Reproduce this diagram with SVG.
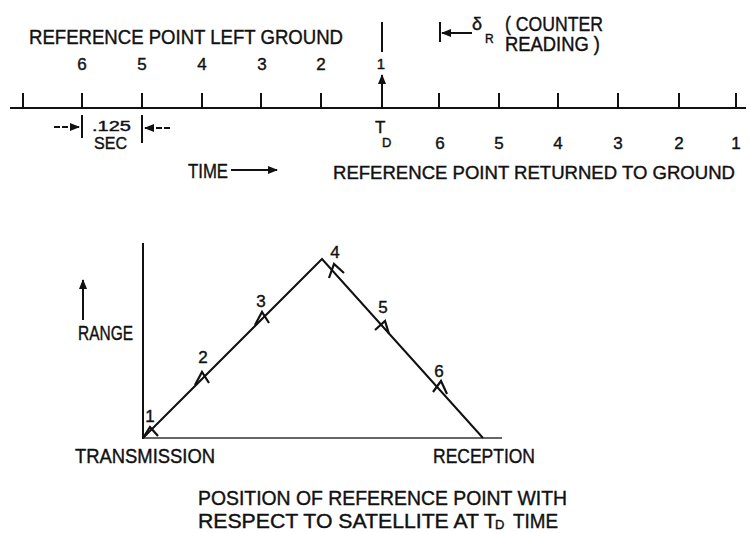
<svg xmlns="http://www.w3.org/2000/svg" width="751" height="533" viewBox="0 0 751 533">
<style>
text{font-family:"Liberation Sans","DejaVu Sans",sans-serif;fill:#111;stroke:#111;stroke-width:0.4}
.l{stroke:#111;stroke-width:2;fill:none}
.t{stroke:#111;stroke-width:2;fill:none}
.big{font-size:20px}
.num{font-size:17px}
.sub{font-size:12px}
.mk{stroke:#111;stroke-width:2.2;fill:none;stroke-linejoin:miter}
</style>
<defs>
<marker id="ah" viewBox="0 0 10 10" refX="9" refY="5" markerWidth="5" markerHeight="5" orient="auto" markerUnits="strokeWidth">
<path d="M0,1 L10,5 L0,9 Z" fill="#111"/>
</marker>
</defs>
<rect width="751" height="533" fill="#fff"/>
<g id="timeline">
<line class="l" x1="10" y1="108" x2="746" y2="108"/>
<g class="t">
<line x1="23" y1="108" x2="23" y2="93"/>
<line x1="82" y1="108" x2="82" y2="93"/>
<line x1="142" y1="108" x2="142" y2="93"/>
<line x1="202" y1="108" x2="202" y2="93"/>
<line x1="261" y1="108" x2="261" y2="93"/>
<line x1="321" y1="108" x2="321" y2="93"/>
<line x1="439" y1="108" x2="439" y2="93"/>
<line x1="499" y1="108" x2="499" y2="93"/>
<line x1="558" y1="108" x2="558" y2="93"/>
<line x1="618" y1="108" x2="618" y2="93"/>
<line x1="679" y1="108" x2="679" y2="93"/>
<line x1="736" y1="108" x2="736" y2="93"/>
</g>
<line class="l" x1="382" y1="108" x2="382" y2="75" marker-end="url(#ah)"/>
<line class="l" x1="382" y1="22" x2="382" y2="52"/>
</g>
<g id="labels-top">
<text class="big" x="29" y="44" textLength="314" lengthAdjust="spacingAndGlyphs">REFERENCE POINT LEFT GROUND</text>
<text class="num" x="82" y="70" text-anchor="middle">6</text>
<text class="num" x="142" y="70" text-anchor="middle">5</text>
<text class="num" x="202" y="70" text-anchor="middle">4</text>
<text class="num" x="262" y="70" text-anchor="middle">3</text>
<text class="num" x="321" y="70" text-anchor="middle">2</text>
<text class="num" x="381" y="69" text-anchor="middle" style="font-size:15px">1</text>
</g>
<g id="counter">
<line class="l" x1="440" y1="22" x2="440" y2="42"/>
<line class="l" x1="472" y1="33" x2="442" y2="33" stroke-width="1.5" marker-end="url(#ah)"/>
<text x="472" y="30" style="font-size:18px">δ</text>
<text class="sub" x="485" y="43">R</text>
<text class="big" x="505" y="31" textLength="98" lengthAdjust="spacingAndGlyphs">( COUNTER</text>
<text class="big" x="505" y="51" textLength="95" lengthAdjust="spacingAndGlyphs">READING )</text>
</g>
<g id="interval">
<line class="l" x1="82" y1="115" x2="82" y2="138" stroke-width="1.5"/>
<line class="l" x1="142" y1="115" x2="142" y2="143" stroke-width="1.5"/>
<line class="l" x1="54" y1="127" x2="79" y2="127" stroke-width="1.5" stroke-dasharray="6,2" marker-end="url(#ah)"/>
<line class="l" x1="170" y1="128" x2="145" y2="128" stroke-width="1.5" stroke-dasharray="6,2" marker-end="url(#ah)"/>
<text x="92" y="131" style="font-size:15px" textLength="39" lengthAdjust="spacingAndGlyphs">.125</text>
<text x="94" y="149" style="font-size:17px" textLength="33" lengthAdjust="spacingAndGlyphs">SEC</text>
</g>
<g id="labels-bottom">
<text x="375" y="133" style="font-size:17px">T</text>
<text x="382" y="147" style="font-size:13px">D</text>
<text class="num" x="440" y="149" text-anchor="middle">6</text>
<text class="num" x="499" y="149" text-anchor="middle">5</text>
<text class="num" x="558" y="149" text-anchor="middle">4</text>
<text class="num" x="618" y="149" text-anchor="middle">3</text>
<text class="num" x="679" y="149" text-anchor="middle">2</text>
<text class="num" x="736" y="149" text-anchor="middle">1</text>
<text class="big" x="188" y="178" textLength="40" lengthAdjust="spacingAndGlyphs">TIME</text>
<line class="l" x1="231" y1="170" x2="277" y2="170" stroke-width="1.5" marker-end="url(#ah)"/>
<text x="333" y="179" style="font-size:18.5px" textLength="402" lengthAdjust="spacingAndGlyphs">REFERENCE POINT RETURNED TO GROUND</text>
</g>
<g id="graph">
<line class="l" x1="143" y1="243" x2="143" y2="439"/>
<line x1="143" y1="438" x2="502" y2="438" stroke="#333" stroke-width="1.5"/>
<polyline class="l" points="143,438 322,259 483,438"/>
<line class="l" x1="83" y1="320" x2="83" y2="280" stroke-width="1.5" marker-end="url(#ah)"/>
<text class="big" x="78" y="340" textLength="55" lengthAdjust="spacingAndGlyphs">RANGE</text>
<g class="mk">
<path d="M143,438 L150,427 L158,436"/>
<path d="M195,385 L202,372 L209,383"/>
<path d="M255,325 L262,312 L269,323"/>
<path d="M329,278 L334,264 L344,273"/>
<path d="M375,330 L385,321 L389,334"/>
<path d="M433,392 L441,381 L447,394"/>
</g>
<text class="num" x="150" y="422" text-anchor="middle">1</text>
<text class="num" x="203" y="363" text-anchor="middle">2</text>
<text class="num" x="261" y="307" text-anchor="middle">3</text>
<text class="num" x="335" y="258" text-anchor="middle">4</text>
<text class="num" x="383" y="313" text-anchor="middle">5</text>
<text class="num" x="439" y="377" text-anchor="middle">6</text>
<text class="big" x="75" y="463" textLength="140" lengthAdjust="spacingAndGlyphs">TRANSMISSION</text>
<text class="big" x="433" y="463" textLength="102" lengthAdjust="spacingAndGlyphs">RECEPTION</text>
</g>
<g id="caption">
<text class="big" x="198" y="505" textLength="369" lengthAdjust="spacingAndGlyphs">POSITION OF REFERENCE POINT WITH</text>
<text class="big" x="198" y="528" textLength="281" lengthAdjust="spacingAndGlyphs">RESPECT TO SATELLITE AT</text>
<text class="big" x="484" y="528">T</text>
<text x="495" y="529" style="font-size:13px">D</text>
<text class="big" x="513" y="528" textLength="45" lengthAdjust="spacingAndGlyphs">TIME</text>
</g>
</svg>
